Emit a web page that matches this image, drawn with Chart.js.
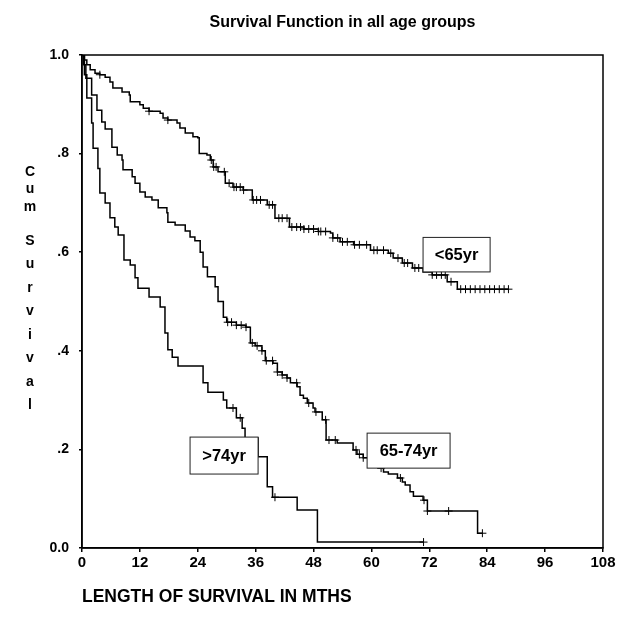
<!DOCTYPE html>
<html>
<head>
<meta charset="utf-8">
<script src="https://cdn.jsdelivr.net/npm/chart.js@4.4.1/dist/chart.umd.min.js"></script>
<style>
  html, body { margin: 0; padding: 0; background: #fff; }
  #wrap { width: 619px; height: 634px; }
</style>
</head>
<body>
<div id="wrap"><canvas id="survChart" width="619" height="634"></canvas></div>
<script>
// Kaplan-Meier steps (months, cum survival)
const youngTimes = [0, 0.5, 1, 1.7, 2.7, 3.7, 4.8, 5.8, 6.4, 8.3, 9.8, 10, 12, 12.7, 13.9, 16.2, 16.8, 17.8, 19.7, 20.3, 21.4, 23, 24, 24.3, 25.9, 26.6, 27.2, 28.2, 29.7, 31.3, 33.4, 35.3, 38.4, 40, 43, 46, 49, 51.5, 52, 53.5, 56.3, 59.8, 63.5, 64.5, 66.4, 68.5, 70.7, 72.6, 75.7, 77.8, 88.4];
const youngSurv  = [1, 0.99, 0.98, 0.97, 0.963, 0.96, 0.955, 0.945, 0.933, 0.925, 0.919, 0.905, 0.899, 0.892, 0.886, 0.882, 0.872, 0.868, 0.862, 0.852, 0.842, 0.834, 0.832, 0.80, 0.797, 0.787, 0.773, 0.763, 0.74, 0.732, 0.726, 0.706, 0.696, 0.669, 0.651, 0.647, 0.642, 0.639, 0.629, 0.621, 0.615, 0.604, 0.598, 0.588, 0.578, 0.568, 0.56, 0.554, 0.54, 0.525, 0.525];
const youngCensor = [3.7, 13.9, 17.8, 26.8, 27.3, 27.8, 29.5, 30.5, 31.5, 32, 32.8, 33.5, 35.5, 36.2, 37, 38.8, 39.5, 40.8, 41.5, 42.5, 43.5, 44.5, 45.3, 46, 47, 48, 49, 49.5, 50.5, 52, 53, 54, 55, 56.5, 57.5, 59, 60.5, 61.2, 62.5, 64, 65.5, 66.8, 67.5, 69, 69.8, 72.6, 73.5, 74.5, 75.3, 76.5, 78.5, 79.5, 80.5, 81.5, 82.5, 83.5, 84.5, 85.5, 86.5, 87.5, 88.4];

const midTimes = [0, 0.3, 0.8, 2, 3.1, 4.1, 4.8, 6.2, 7.3, 8.3, 8.5, 10.4, 11, 12, 13.1, 14.5, 15.8, 17.6, 17.8, 19.3, 21.4, 22.4, 23.4, 24.5, 25.1, 26, 27.6, 28.2, 29.3, 30, 32, 34, 34.9, 35.9, 37.3, 38, 39.6, 40.5, 41.5, 42.5, 43.2, 44.6, 45.2, 45.9, 46.7, 47.9, 48.3, 49.8, 50.6, 52.9, 56.2, 57, 58.3, 60, 61.4, 62.5, 63.5, 65.4, 66.4, 67, 68, 68.7, 70.7, 71.6, 82, 83];
const midSurv  = [1, 0.98, 0.953, 0.919, 0.888, 0.864, 0.85, 0.813, 0.797, 0.787, 0.767, 0.753, 0.74, 0.722, 0.712, 0.706, 0.69, 0.68, 0.661, 0.655, 0.643, 0.631, 0.623, 0.60, 0.57, 0.55, 0.53, 0.50, 0.468, 0.458, 0.452, 0.448, 0.416, 0.41, 0.40, 0.38, 0.375, 0.357, 0.351, 0.345, 0.335, 0.327, 0.31, 0.304, 0.294, 0.284, 0.276, 0.26, 0.219, 0.213, 0.199, 0.19, 0.183, 0.17, 0.162, 0.154, 0.15, 0.142, 0.134, 0.128, 0.114, 0.105, 0.097, 0.075, 0.03, 0.03];
const midCensor = [30.2, 31, 32, 33, 34, 35.3, 36.3, 37.3, 38.2, 39.5, 40.5, 41.5, 42.5, 44.5, 47, 48.5, 50.5, 51.2, 52.5, 56.8, 57.5, 58.3, 62, 66, 70.9, 71.6, 76, 83];

const oldTimes = [0, 0.5, 1, 2, 2.3, 3.3, 3.7, 4.8, 5.8, 6.8, 7.5, 8.7, 10, 11, 11.6, 13.9, 16.2, 17.2, 17.8, 18.7, 19.9, 25.1, 26.1, 29.3, 30, 32, 33.2, 33.8, 36.5, 38.4, 39.5, 44.6, 48.8, 70.8];
const oldSurv  = [1, 0.96, 0.913, 0.862, 0.811, 0.77, 0.72, 0.70, 0.67, 0.651, 0.635, 0.584, 0.574, 0.548, 0.527, 0.509, 0.489, 0.436, 0.402, 0.387, 0.369, 0.335, 0.316, 0.30, 0.284, 0.264, 0.243, 0.223, 0.185, 0.124, 0.103, 0.077, 0.012, 0.012];
const oldCensor = [31.3, 32.8, 40, 70.8];

const xTicks = [0, 12, 24, 36, 48, 60, 72, 84, 96, 108];
const yTicks = [0, 0.2, 0.4, 0.6, 0.8, 1.0];
const yTickLabels = ['0.0', '.2', '.4', '.6', '.8', '1.0'];

// group label boxes, placed in data units
const groupBoxes = [
    { text: '<65yr',   x0: 70.7, x1: 84.6, y0: 0.63,  y1: 0.56 },
    { text: '65-74yr', x0: 59.1, x1: 76.3, y0: 0.233, y1: 0.162 },
    { text: '>74yr',   x0: 22.4, x1: 36.5, y0: 0.225, y1: 0.150 }
];

const FONT = "'Liberation Sans', Arial, sans-serif";

function toPoints(times, surv) {
    return times.map((t, i) => ({ x: t, y: surv[i] }));
}

function survAt(times, surv, t) {
    let s = surv[0];
    for (let i = 0; i < times.length; i++) {
        if (times[i] <= t) s = surv[i];
    }
    return s;
}

function censorPoints(censor, times, surv) {
    return censor.map(t => ({ x: t, y: survAt(times, surv, t) }));
}

// horizontal first, then drop: KM style
const stepLine = (data) => ({
    type: 'line',
    data: data,
    stepped: 'before',
    borderColor: '#000',
    borderWidth: 1.5,
    pointRadius: 0,
    fill: false
});

const censorSet = (data) => ({
    type: 'scatter',
    data: data,
    pointStyle: 'cross',
    pointRadius: 4,
    borderColor: '#000',
    borderWidth: 1,
    showLine: false
});

// frame, label boxes and the stacked y title
const extras = {
    id: 'extras',
    afterDatasetsDraw(chart) {
        const { ctx, chartArea: a, scales: { x, y } } = chart;
        ctx.save();
        ctx.strokeStyle = '#000';
        ctx.lineWidth = 1.5;
        ctx.strokeRect(a.left, a.top, a.right - a.left, a.bottom - a.top);

        groupBoxes.forEach(b => {
            const l = x.getPixelForValue(b.x0), r = x.getPixelForValue(b.x1);
            const t = y.getPixelForValue(b.y0), btm = y.getPixelForValue(b.y1);
            ctx.fillStyle = '#fff';
            ctx.fillRect(l, t, r - l, btm - t);
            ctx.lineWidth = 1;
            ctx.strokeStyle = '#222';
            ctx.strokeRect(l, t, r - l, btm - t);
            ctx.fillStyle = '#000';
            ctx.font = `bold 16.5px ${FONT}`;
            ctx.textAlign = 'center';
            ctx.textBaseline = 'middle';
            ctx.fillText(b.text, (l + r) / 2, (t + btm) / 2 + 1);
        });

        // stacked letters, SPSS style
        ctx.font = `bold 14px ${FONT}`;
        ctx.fillStyle = '#000';
        ctx.textAlign = 'center';
        ctx.textBaseline = 'middle';
        const top = ['C', 'u', 'm'];
        const bottom = ['S', 'u', 'r', 'v', 'i', 'v', 'a', 'l'];
        top.forEach((ch, i) => ctx.fillText(ch, 30, 172 + i * 17.5));
        bottom.forEach((ch, i) => ctx.fillText(ch, 30, 241 + i * 23.5));
        ctx.restore();
    }
};

const ctx = document.getElementById('survChart').getContext('2d');
new Chart(ctx, {
    data: {
        datasets: [
            stepLine(toPoints(youngTimes, youngSurv)),
            stepLine(toPoints(midTimes, midSurv)),
            stepLine(toPoints(oldTimes, oldSurv)),
            censorSet(censorPoints(youngCensor, youngTimes, youngSurv)),
            censorSet(censorPoints(midCensor, midTimes, midSurv)),
            censorSet(censorPoints(oldCensor, oldTimes, oldSurv))
        ]
    },
    plugins: [extras],
    options: {
        responsive: false,
        animation: false,
        layout: { padding: { left: 0, right: 16, top: 0, bottom: 0 } },
        scales: {
            x: {
                type: 'linear',
                min: 0,
                max: 108,
                afterBuildTicks: s => { s.ticks = xTicks.map(v => ({ value: v })); },
                afterFit: s => { s.height = 86; },
                grid: { display: true, drawOnChartArea: false, tickLength: 4, color: '#000', lineWidth: 1.5 },
                border: { display: true, color: '#000', width: 1.5 },
                ticks: { color: '#000', padding: 2, font: { family: FONT, size: 15, weight: 'bold' } },
                title: {
                    display: true,
                    text: 'LENGTH OF SURVIVAL IN MTHS',
                    align: 'start',
                    color: '#000',
                    font: { family: FONT, size: 17.5, weight: 'bold' },
                    padding: { top: 0, bottom: 26 }
                }
            },
            y: {
                type: 'linear',
                min: 0,
                max: 1,
                afterBuildTicks: s => { s.ticks = yTicks.map(v => ({ value: v })); },
                afterFit: s => { s.width = 82; },
                grid: { display: true, drawOnChartArea: false, tickLength: 3, color: '#000', lineWidth: 1.5 },
                border: { display: true, color: '#000', width: 1.5 },
                ticks: {
                    color: '#000',
                    padding: 10,
                    font: { family: FONT, size: 14, weight: 'bold' },
                    callback: (v, i) => yTickLabels[i]
                }
            }
        },
        plugins: {
            legend: { display: false },
            tooltip: { enabled: false },
            title: {
                display: true,
                fullSize: false,
                text: 'Survival Function in all age groups',
                color: '#000',
                font: { family: FONT, size: 16, weight: 'bold' },
                padding: { top: 13, bottom: 22.8 }
            }
        }
    }
});
</script>
</body>
</html>
